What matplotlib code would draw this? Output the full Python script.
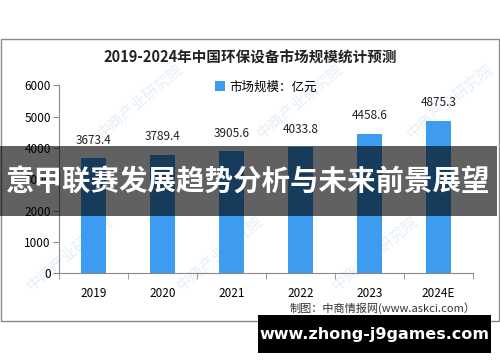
import matplotlib
matplotlib.use("Agg")
import matplotlib.pyplot as plt
from matplotlib.patches import Rectangle
import numpy as np

plt.rcParams['font.family'] = ['Noto Sans CJK SC', 'DejaVu Sans']

years = ['2019', '2020', '2021', '2022', '2023', '2024E']
market = [3673.4, 3789.4, 3905.6, 4033.8, 4458.6, 4875.3]
title = '2019-2024年中国环保设备市场规模统计预测'
legend_label = '市场规模：亿元'
source = '制图：中商情报网(www.askci.com）'
banner = '意甲联赛发展趋势分析与未来前景展望'
site = 'www.zhong-j9games.com'

W, H = 500, 362
fig = plt.figure(figsize=(5, 3.62), dpi=100)
fig.patch.set_facecolor('white')

# chart frame
fig.patches.append(Rectangle((0.5 / W, 1 - 321 / H), 498.5 / W, (321 - 39) / H,
                             transform=fig.transFigure, fill=False,
                             edgecolor='#8a8a8a', linewidth=1))

# faint watermarks, behind the bars
for wx, wy in [(0.28, 0.72), (0.6, 0.72), (0.9, 0.72),
               (0.14, 0.3), (0.44, 0.3), (0.75, 0.3)]:
    fig.text(wx, wy, '中商产业研究院', rotation=40, fontsize=11, color='#e4eef8',
             ha='center', va='center', zorder=-1)

ax = fig.add_axes((59 / W, 1 - 273.3 / H, 414 / W, (273.3 - 85.3) / H))
ax.patch.set_alpha(0)
x = np.arange(len(years))
bars = ax.bar(x, market, width=0.35, color='#3d9cf0', label=legend_label, zorder=2)
for xi, v in zip(x, market):
    ax.annotate(f'{v:.1f}', (xi, v), xytext=(0, 8), textcoords='offset points',
                ha='center', va='bottom', fontsize=8.5, color='#222222')

ax.set_xlim(-0.5, len(years) - 0.5)
ax.set_ylim(0, 6000)
ax.set_yticks(range(0, 6001, 1000))
ax.set_yticklabels([str(t) for t in range(0, 6001, 1000)], fontsize=8.5)
ax.set_xticks(x)
ax.set_xticklabels(years, fontsize=8.5)
ax.tick_params(axis='x', length=0, pad=10)
ax.set_xticks(np.arange(-0.5, len(years)), minor=True)
ax.tick_params(axis='x', which='minor', length=4, color='#8a8a8a')
ax.tick_params(axis='y', length=4, color='#8a8a8a', pad=2)
for s in ['top', 'right']:
    ax.spines[s].set_visible(False)
for s in ['left', 'bottom']:
    ax.spines[s].set_color('#8a8a8a')

fig.text(0.5, 1 - 58 / H, title, ha='center', va='center', fontsize=10.5,
         fontweight='bold', color='#222222')
ax.legend(loc='center', bbox_to_anchor=(0.5, (273.3 - 87) / (273.3 - 85.3)),
          frameon=False, fontsize=9, handlelength=0.8, handleheight=0.8,
          handletextpad=0.4)
fig.text(476 / W, 1 - 308 / H, source, ha='right', va='center', fontsize=8,
         color='#333333')

# overlay banner
fig.patches.append(Rectangle((0, 1 - 216 / H), 497 / W, 70 / H,
                             transform=fig.transFigure, facecolor='black',
                             alpha=0.62, edgecolor='none', zorder=10))
fig.text(248.5 / W, 1 - 183 / H, banner, ha='center', va='center', fontsize=20.5,
         fontweight='bold', color='white', zorder=11)

fig.patches.append(Rectangle((258 / W, 1 - 353 / H), 233 / W, 38 / H,
                             transform=fig.transFigure, facecolor='black',
                             edgecolor='none', zorder=10))
fig.text(374.5 / W, 1 - 335 / H, site, ha='center', va='center', fontsize=11.5,
         fontweight='bold', color='white', family=['DejaVu Sans'], zorder=11)

fig.savefig('out.png', dpi=100)
